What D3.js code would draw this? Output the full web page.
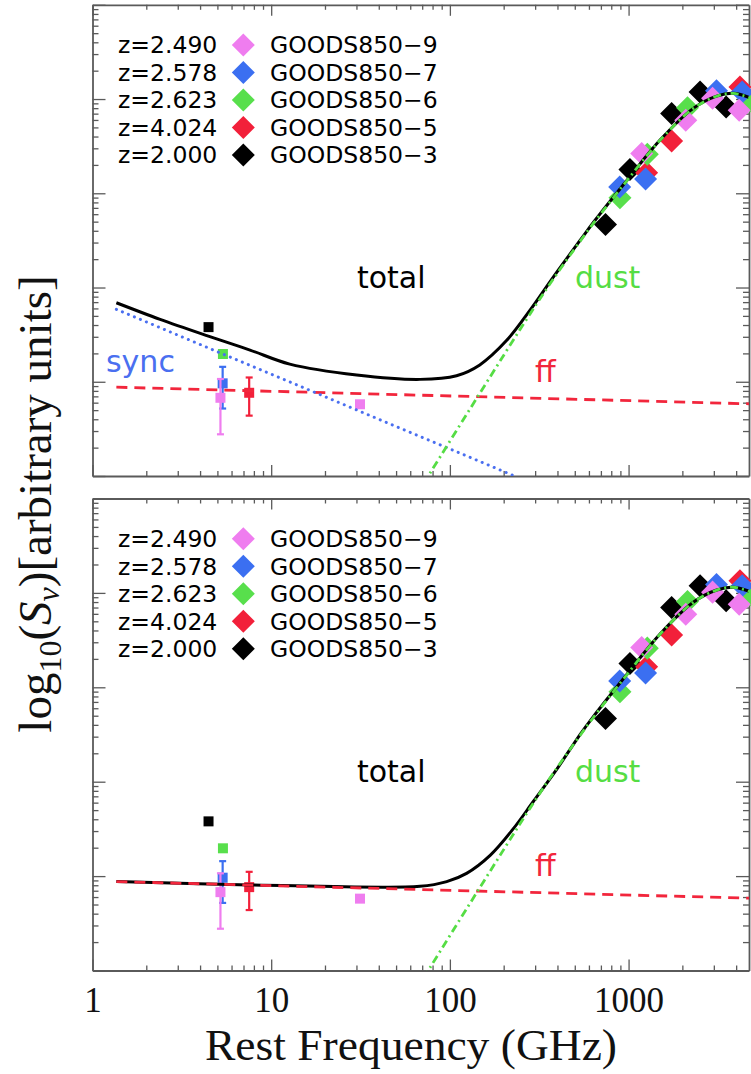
<!DOCTYPE html>
<html>
<head>
<meta charset="utf-8">
<script src="https://cdn.jsdelivr.net/npm/d3@7"></script>
<style>
  html, body { margin: 0; padding: 0; background: #fff; }
  svg { display: block; }
</style>
</head>
<body>
<svg id="chart" width="751" height="1074"></svg>
<script>
// ---------------- data ----------------
const galaxies  = ["GOODS850-9", "GOODS850-7", "GOODS850-6", "GOODS850-5", "GOODS850-3"];
const redshifts = ["z=2.490", "z=2.578", "z=2.623", "z=4.024", "z=2.000"];
const xTickLabels = ["1", "10", "100", "1000"];

// far-IR / submm photometry: rest frequency (GHz), flux (arbitrary units)
const fir9Nu = [1184, 2090, 2951, 4159];
const fir9S  = [2642, 5957, 10190, 7600];
const fir7Nu = [892, 1245, 3105, 4323];
const fir7S  = [1169, 1418, 12250, 11890];
const fir6Nu = [895, 1273, 2137, 4780];
const fir6S  = [898, 2600, 8090, 9520];
const fir5Nu = [1262, 1742, 4200];
const fir5S  = [1652, 3587, 13430];
const fir3Nu = [743, 1018, 1742, 2512, 3516];
const fir3S  = [467, 1791, 7015, 11890, 8241];

// radio photometry with error ranges
const radioGal = ["GOODS850-3", "GOODS850-6", "GOODS850-7", "GOODS850-9", "GOODS850-5", "GOODS850-9"];
const radioNu  = [4.46, 5.37, 5.35, 5.20, 7.53, 31.4];
const radioS   = [38.0, 19.7, 9.62, 6.76, 7.64, 5.77];
const radioLo  = [null, null, 5.2, 2.77, 4.37, null];
const radioHi  = [null, null, 14.4, 10.7, 11.1, null];

// model components
const syncNu = [1.36, 300];
const syncS  = [58.6, 0.81];
const ffNu   = [1.36, 4840];
const ffS    = [8.75, 5.83];
const dustNu = [63.1, 144, 281, 379, 535, 635, 975, 1496, 2301, 3112, 3855, 4840];
const dustS  = [0.575, 7.08, 52.5, 123, 309, 479, 1349, 3631, 7943, 10715, 11482, 10233];

// total model, synchrotron + free-free + dust (upper panel)
const totalSyncNu = [1.36, 2.39, 4.45, 7.61, 12.7, 30.1, 68.0, 109, 147, 208, 281, 379, 535, 635, 975, 1496, 2301, 3112, 3855, 4840];
const totalSyncS  = [68.9, 45.9, 30.5, 21.7, 15.4, 11.8, 10.6, 11.6, 15.1, 27.5, 57.5, 129, 316, 490, 1360, 3650, 7960, 10730, 11490, 10240];
// total model, free-free + dust only (lower panel)
const totalNoSyncNu = [1.36, 7.61, 68.0, 96.0, 124, 168, 226, 293, 396, 535, 635, 975, 1496, 2301, 3112, 3855, 4840];
const totalNoSyncS  = [8.75, 8.07, 7.8, 8.75, 10.7, 16.6, 31.6, 61.7, 135, 316, 490, 1360, 3650, 7960, 10730, 11490, 10240];

// ---------------- styling ----------------
const galaxyColor = {
  "GOODS850-9": "#ef7def",
  "GOODS850-7": "#3b6ff1",
  "GOODS850-6": "#58df4c",
  "GOODS850-5": "#f2203a",
  "GOODS850-3": "#000000"
};
const drawOrder = ["GOODS850-3", "GOODS850-5", "GOODS850-6", "GOODS850-7", "GOODS850-9"];
const firData = {
  "GOODS850-9": [fir9Nu, fir9S],
  "GOODS850-7": [fir7Nu, fir7S],
  "GOODS850-6": [fir6Nu, fir6S],
  "GOODS850-5": [fir5Nu, fir5S],
  "GOODS850-3": [fir3Nu, fir3S]
};
const C_SYNC = "#4a6ff0", C_FF = "#f2263c", C_DUST = "#55dd44", C_AXIS = "#5a5a5a";
const SANS = "'DejaVu Sans', sans-serif";
const SERIF = "'Liberation Serif', 'Times New Roman', serif";

const svg = d3.select("#chart");
const x = d3.scaleLog().domain([1, 4720]).range([92.5, 749]);
const xL = 92.5, xR = 749;

const panels = [
  { top: 4.8,   bottom: 476,   totalNu: totalSyncNu,   totalS: totalSyncS,   sync: true },
  { top: 498.5, bottom: 970.5, totalNu: totalNoSyncNu, totalS: totalNoSyncS, sync: false }
];

const isMajor = v => Math.abs(Math.log10(v) - Math.round(Math.log10(v))) < 1e-9;
const zip = (a, b) => a.map((v, i) => [v, b[i]]);

panels.forEach((p, pi) => {
  const y = d3.scaleLog().domain([1, 1e5]).range([p.bottom, p.top]);
  const g = svg.append("g");
  const clipId = "clip" + pi;
  g.append("clipPath").attr("id", clipId)
    .append("rect").attr("x", xL).attr("y", p.top).attr("width", xR - xL).attr("height", p.bottom - p.top);

  // ---- axes (ticks point inward on all four sides) ----
  const xt = x.ticks();
  const yt = y.ticks();
  const axB = g.append("g").attr("transform", `translate(0,${p.bottom})`)
    .call(d3.axisBottom(x).tickValues(xt).tickSizeInner(-11).tickSizeOuter(0).tickPadding(17)
      .tickFormat(d => (pi === 1 && isMajor(d)) ? xTickLabels[Math.round(Math.log10(d))] : ""));
  axB.selectAll(".tick line").attr("y2", d => isMajor(d) ? -11 : -5);
  const axT = g.append("g").attr("transform", `translate(0,${p.top})`)
    .call(d3.axisTop(x).tickValues(xt).tickSizeInner(-11).tickSizeOuter(0).tickFormat(""));
  axT.selectAll(".tick line").attr("y2", d => isMajor(d) ? 11 : 5);
  const axLft = g.append("g").attr("transform", `translate(${xL},0)`)
    .call(d3.axisLeft(y).tickValues(yt).tickSizeInner(-13).tickSizeOuter(0).tickFormat(""));
  axLft.selectAll(".tick line").attr("x2", d => isMajor(d) ? 13 : 6);
  const axR = g.append("g").attr("transform", `translate(${xR},0)`)
    .call(d3.axisRight(y).tickValues(yt).tickSizeInner(-13).tickSizeOuter(0).tickFormat(""));
  axR.selectAll(".tick line").attr("x2", d => isMajor(d) ? -13 : -6);
  [axB, axT, axLft, axR].forEach(a => {
    a.select(".domain").attr("stroke", C_AXIS).attr("stroke-width", 1.8);
    a.selectAll(".tick line").attr("stroke", C_AXIS).attr("stroke-width", 1.3);
  });
  axB.selectAll(".tick text")
    .attr("font-family", SERIF).attr("font-size", 35).attr("fill", "#111");

  // ---- radio points ----
  const radio = radioNu.map((nu, i) => ({ nu, s: radioS[i], lo: radioLo[i], hi: radioHi[i], gal: radioGal[i] }))
    .sort((a, b) => drawOrder.indexOf(a.gal) - drawOrder.indexOf(b.gal));
  radio.forEach(d => {
    const cx = x(d.nu), col = galaxyColor[d.gal];
    if (d.lo !== null) {
      g.append("line").attr("x1", cx).attr("x2", cx).attr("y1", y(d.lo)).attr("y2", y(d.hi))
        .attr("stroke", col).attr("stroke-width", 2.2);
      [d.lo, d.hi].forEach(v => g.append("line").attr("x1", cx - 3.5).attr("x2", cx + 3.5)
        .attr("y1", y(v)).attr("y2", y(v)).attr("stroke", col).attr("stroke-width", 2.2));
    }
    g.append("path").attr("d", d3.symbol(d3.symbolSquare, 100)())
      .attr("transform", `translate(${cx},${y(d.s)})`).attr("fill", col);
  });

  // ---- far-IR diamonds ----
  drawOrder.forEach(gal => {
    const [nus, ss] = firData[gal];
    nus.forEach((nu, i) => {
      g.append("path").attr("d", d3.symbol(d3.symbolSquare, 265)())
        .attr("transform", `translate(${x(nu)},${y(ss[i])}) rotate(45)`)
        .attr("fill", galaxyColor[gal]);
    });
  });

  // ---- model curves ----
  const line = d3.line().x(d => x(d[0])).y(d => y(d[1]));
  const smooth = d3.line().x(d => x(d[0])).y(d => y(d[1])).curve(d3.curveCatmullRom.alpha(0.5));
  const cg = g.append("g").attr("clip-path", `url(#${clipId})`).attr("fill", "none");
  cg.append("path").attr("d", smooth(zip(p.totalNu, p.totalS)))
    .attr("stroke", "#000").attr("stroke-width", 3);
  cg.append("path").attr("d", line(zip(ffNu, ffS)))
    .attr("stroke", C_FF).attr("stroke-width", 2.8).attr("stroke-dasharray", "11,7");
  if (p.sync) {
    cg.append("path").attr("d", line(zip(syncNu, syncS)))
      .attr("stroke", C_SYNC).attr("stroke-width", 3).attr("stroke-linecap", "round")
      .attr("stroke-dasharray", "0.1,6.4");
  }
  cg.append("path").attr("d", smooth(zip(dustNu, dustS)))
    .attr("stroke", C_DUST).attr("stroke-width", 2.8).attr("stroke-dasharray", "8,4,2,4");

  // ---- component labels (anchored in data space) ----
  const lab = (txt, nu, s, col) => g.append("text").attr("x", x(nu)).attr("y", y(s))
    .attr("font-family", SANS).attr("font-size", 30).attr("fill", col).text(txt);
  lab("total", 30.2, 98.6, "#000");
  lab("dust", 501, 98.6, C_DUST);
  lab("ff", 299, 10.0, C_FF);
  if (p.sync) lab("sync", 1.19, 12.7, C_SYNC);

  // ---- legend ----
  const lg = g.append("g").attr("transform", `translate(0,${p.top})`);
  galaxies.forEach((gal, i) => {
    const cy = 40.2 + 27.5 * i;
    lg.append("text").attr("x", 118).attr("y", cy + 8.5)
      .attr("font-family", SANS).attr("font-size", 23.5).attr("fill", "#000").text(redshifts[i]);
    lg.append("path").attr("d", d3.symbol(d3.symbolSquare, 265)())
      .attr("transform", `translate(243.3,${cy}) rotate(45)`).attr("fill", galaxyColor[gal]);
    lg.append("text").attr("x", 270).attr("y", cy + 8.5)
      .attr("font-family", SANS).attr("font-size", 23.5).attr("fill", "#000")
      .text(gal.replace("-", "\u2212"));
  });
});

// ---- axis titles ----
svg.append("text").attr("x", 411).attr("y", 1060).attr("text-anchor", "middle")
  .attr("font-family", SERIF).attr("font-size", 45).attr("fill", "#111")
  .attr("textLength", 412).attr("lengthAdjust", "spacingAndGlyphs")
  .text("Rest Frequency (GHz)");

const yl = svg.append("text").attr("transform", "translate(51,504) rotate(-90)")
  .attr("text-anchor", "middle").attr("font-family", SERIF).attr("font-size", 47).attr("fill", "#111");
yl.append("tspan").text("log");
yl.append("tspan").attr("font-size", 32).attr("dy", 10).text("10");
yl.append("tspan").attr("dy", -10).text("(");
yl.append("tspan").attr("font-style", "italic").text("S");
yl.append("tspan").attr("font-style", "italic").attr("font-size", 32).attr("dy", 8).text("\u03bd");
yl.append("tspan").attr("dy", -8).text(")[arbitrary units]");
</script>
</body>
</html>
